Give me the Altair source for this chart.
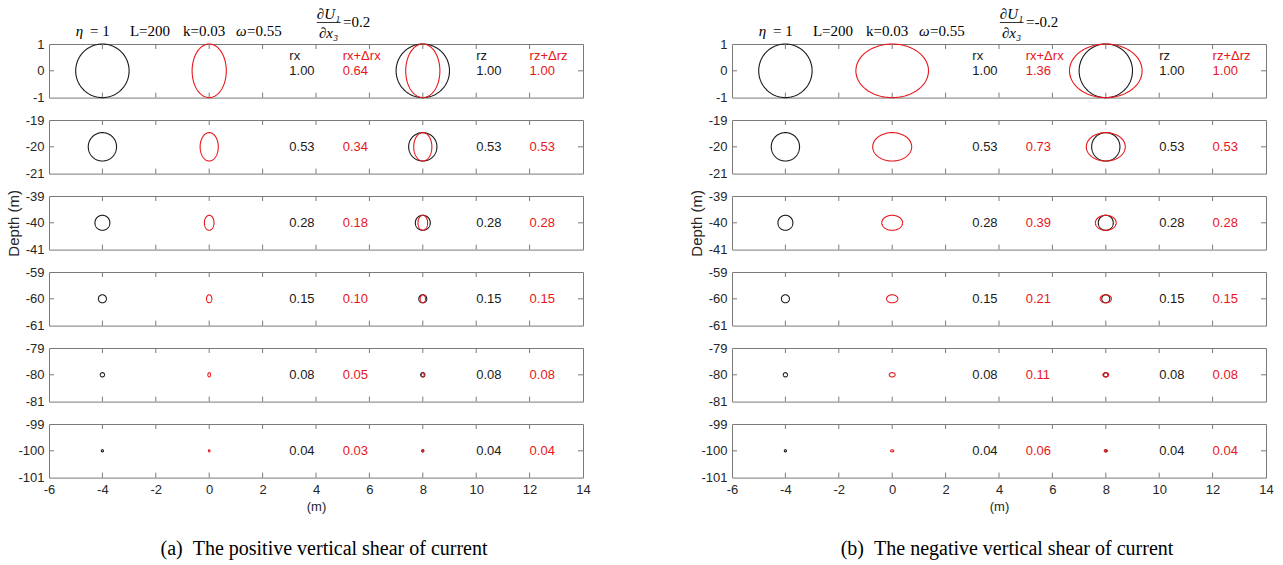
import numpy as np
import pandas as pd
import altair as alt

# ---- data -------------------------------------------------------------
depths = [0, -20, -40, -60, -80, -100]
rx = [1.00, 0.53, 0.28, 0.15, 0.08, 0.04]
rz = [1.00, 0.53, 0.28, 0.15, 0.08, 0.04]
rx_new_pos = [0.64, 0.34, 0.18, 0.10, 0.05, 0.03]   # rx+Δrx, positive shear
rx_new_neg = [1.36, 0.73, 0.39, 0.21, 0.11, 0.06]   # rx+Δrx, negative shear
rz_new = [1.00, 0.53, 0.28, 0.15, 0.08, 0.04]       # rz+Δrz (both cases)

x_ticks = [-6, -4, -2, 0, 2, 4, 6, 8, 10, 12, 14]
inner_x_ticks = [-4, -2, 0, 2, 4, 6, 8, 10, 12]

col_headers = ["rx", "rx+Δrx", "rz", "rz+Δrz"]
col_x = [3, 5, 10, 12]

NB = "\u00a0"
captions = [f"(a){NB}{NB}The positive vertical shear of current",
            f"(b){NB}{NB}The negative vertical shear of current"]
shear_text = ["=0.2", "=-0.2"]

BLACK = "#1a1a1a"
RED = "#e8161b"
GRID = "#7a7a7a"
W, H = 534, 53.6
SANS = "Liberation Sans"
SERIF = "Liberation Serif"

# plain hyphen-minus in tick labels
LABEL_EXPR = "datum.value + ''"

theta = np.linspace(0, 2 * np.pi, 161)


def ellipse(cx, cy, ax, az, key):
    return pd.DataFrame({
        "x": cx + ax * np.cos(theta),
        "y": cy + az * np.sin(theta),
        "k": np.arange(len(theta)),
        "shape": key,
    })


def panel(i, side):
    c = depths[i]
    rxd = rx_new_pos if side == 0 else rx_new_neg
    xs = alt.Scale(domain=[-6, 14], nice=False, zero=False)
    ys = alt.Scale(domain=[c - 1, c + 1], nice=False, zero=False)

    last = i == len(depths) - 1
    if last:
        xaxis = alt.Axis(values=x_ticks, labelExpr=LABEL_EXPR, ticks=False,
                         tickSize=0, domain=False, grid=False, labelPadding=6,
                         labelFlush=False, labelOverlap=False,
                         title="(m)", titlePadding=4)
    else:
        xaxis = None
    yaxis = alt.Axis(values=[c - 1, c, c + 1], labelExpr=LABEL_EXPR,
                     ticks=False, tickSize=0, domain=False, grid=False,
                     labelPadding=5, labelFlush=False, labelOverlap=False,
                     title="Depth (m)" if i == 2 else "", titlePadding=4,
                     titleFontSize=15)

    def X(field):
        return alt.X(field, scale=xs, axis=xaxis, title="(m)" if last else None)

    def Y(field):
        return alt.Y(field, scale=ys, axis=yaxis)

    black = pd.concat([ellipse(-4, c, rx[i], rz[i], "a"),
                       ellipse(8, c, rx[i], rz[i], "b")])
    red = pd.concat([ellipse(0, c, rxd[i], rz_new[i], "c"),
                     ellipse(8, c, rxd[i], rz_new[i], "d")])

    layers = []
    layers.append(
        alt.Chart(black).mark_line(color=BLACK, strokeWidth=1.1).encode(
            x=X("x:Q"), y=Y("y:Q"), detail="shape:N", order="k:Q"))
    layers.append(
        alt.Chart(red).mark_line(color=RED, strokeWidth=1.1).encode(
            x=X("x:Q"), y=Y("y:Q"), detail="shape:N", order="k:Q"))

    # numbers in the four columns
    vals = pd.DataFrame({
        "x": col_x,
        "y": [c] * 4,
        "label": [f"{rx[i]:.2f}", f"{rxd[i]:.2f}", f"{rz[i]:.2f}", f"{rz_new[i]:.2f}"],
        "col": [BLACK, RED, BLACK, RED],
    })
    layers.append(
        alt.Chart(vals).mark_text(align="left", baseline="middle", font=SANS,
                                  fontSize=13).encode(
            x=X("x:Q"), y=Y("y:Q"),
            text="label:N", color=alt.Color("col:N", scale=None)))

    if i == 0:
        heads = pd.DataFrame({"x": col_x, "y": [c + 0.57] * 4,
                              "label": col_headers,
                              "col": [BLACK, RED, BLACK, RED]})
        layers.append(
            alt.Chart(heads).mark_text(align="left", baseline="middle",
                                       font=SANS, fontSize=13).encode(
                x=X("x:Q"), y=Y("y:Q"),
                text="label:N", color=alt.Color("col:N", scale=None)))

        # parameter line above the top panel
        params = [
            ("η", -5.0, -13, "italic", "left"),
            ("= 1", -4.46, -13, "normal", "left"),
            ("L=200", -2.97, -13, "normal", "left"),
            ("k=0.03", -0.98, -13, "normal", "left"),
            ("ω", 1.0, -13, "italic", "left"),
            ("=0.55", 1.42, -13, "normal", "left"),
            ("∂U₁", 4.47, -30, "italic", "center"),
            ("∂x₃", 4.47, -11, "italic", "center"),
            (shear_text[side], 5.01, -22, "normal", "left"),
        ]
        for txt, px, py, style, al in params:
            d = pd.DataFrame({"x": [px], "t": [txt]})
            layers.append(
                alt.Chart(d).mark_text(align=al, baseline="middle", font=SERIF,
                                       fontSize=15, fontStyle=style,
                                       color="black").encode(
                    x=X("x:Q"), y=alt.value(py), text="t:N"))
        frac = pd.DataFrame({"x0": [4.03], "x1": [4.92]})
        layers.append(
            alt.Chart(frac).mark_rule(color="black", strokeWidth=0.8).encode(
                x=X("x0:Q"), x2="x1:Q", y=alt.value(-21.5)))

    # inward ticks on all four sides
    tx = pd.DataFrame({"x": inner_x_ticks})
    layers.append(
        alt.Chart(tx).mark_rule(color=GRID, strokeWidth=1).encode(
            x=X("x:Q"), y=alt.value(0), y2=alt.value(5)))
    layers.append(
        alt.Chart(tx).mark_rule(color=GRID, strokeWidth=1).encode(
            x=X("x:Q"), y=alt.value(H), y2=alt.value(H - 5)))
    ty = pd.DataFrame({"y": [c]})
    layers.append(
        alt.Chart(ty).mark_rule(color=GRID, strokeWidth=1).encode(
            y=Y("y:Q"), x=alt.value(0), x2=alt.value(5)))
    layers.append(
        alt.Chart(ty).mark_rule(color=GRID, strokeWidth=1).encode(
            y=Y("y:Q"), x=alt.value(W), x2=alt.value(W - 5)))

    if last:
        cap = pd.DataFrame({"x": [4.3], "t": [captions[side]]})
        layers.append(
            alt.Chart(cap).mark_text(align="center", baseline="middle",
                                     font=SERIF, fontSize=20,
                                     color="black").encode(
                x=X("x:Q"), y=alt.value(125), text="t:N"))

    return alt.layer(*layers).properties(width=W, height=H)


panels = []
for i in range(len(depths)):
    for side in (0, 1):
        panels.append(panel(i, side))

chart = alt.concat(
    *panels, columns=2, spacing={"row": 22, "column": 149}, bounds="flush"
).properties(
    padding={"left": 5, "top": 6, "right": 5, "bottom": 2},
    background="white",
).configure_view(
    stroke=GRID, strokeWidth=1
).configure_axis(
    labelFont=SANS, labelFontSize=13, labelColor="#262626",
    titleFont=SANS, titleFontSize=13, titleFontWeight="normal",
    titleColor="#262626",
)

chart.save("out.html", embed_options={"renderer": "svg", "actions": False})
